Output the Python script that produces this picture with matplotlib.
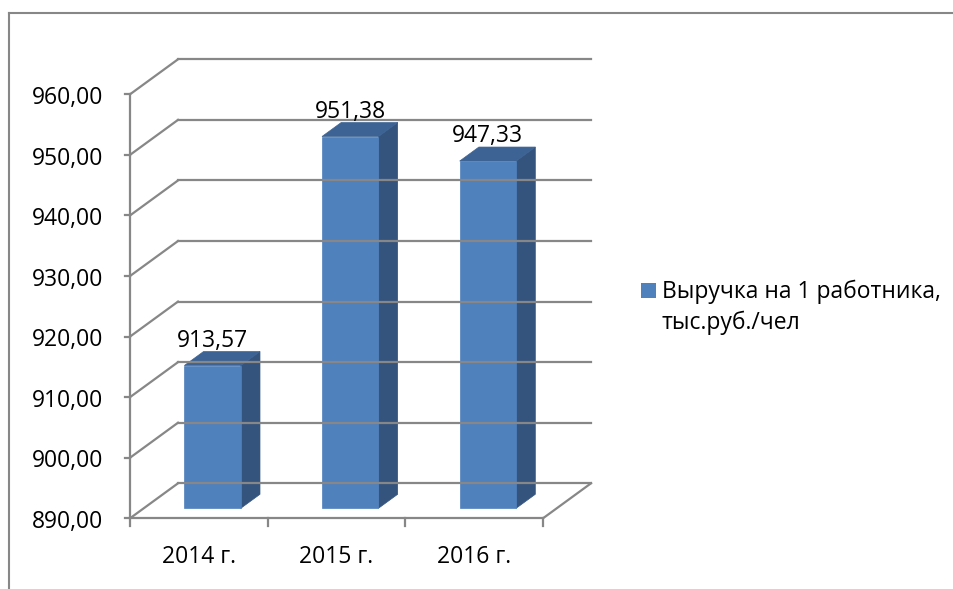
import matplotlib
matplotlib.use("Agg")
import matplotlib.pyplot as plt
from matplotlib.patches import Polygon
from matplotlib.lines import Line2D

# data
categories = ["2014 г.", "2015 г.", "2016 г."]
values = [913.57, 951.38, 947.33]
y_ticks = [890, 900, 910, 920, 930, 940, 950, 960]
legend_lines = ["Выручка на 1 работника,", "тыс.руб./чел"]

plt.rcParams["font.family"] = ["Open Sans", "DejaVu Sans"]
FS = 16.5
GRID = "#878787"
FRONT = "#4F81BD"
SIDE = "#34547E"
TOP = "#3C6394"

# pixel geometry of the reference (954x589)
W, H = 954, 589
X0, XPX = 130, (543 - 130) / 3      # front plane: x origin and px per category
Y0PX, YPX = 518.3, 60.57 / 10        # px of 890, px per value unit
VMIN = y_ticks[0]
DX = 48 / XPX                        # depth offset (category units)
DY = 35 / YPX                        # depth offset (value units)

fig = plt.figure(figsize=(W / 100, H / 100), dpi=100)
ax = fig.add_axes([0, 0, 1, 1])
ax.set_xlim(-X0 / XPX, (W - X0) / XPX)
ax.set_ylim(VMIN - (H - Y0PX) / YPX, VMIN + Y0PX / YPX)
ax.axis("off")


def proj(x, v, t):
    return (x + t * DX, v + t * DY)


n = len(categories)
lw = 1.6

# back wall gridlines + side wall diagonals
for v in y_ticks:
    ax.add_line(Line2D(*zip(proj(0, v, 1), proj(n, v, 1)), color=GRID, lw=lw))
    ax.add_line(Line2D(*zip(proj(0, v, 0), proj(0, v, 1)), color=GRID, lw=lw))
# floor right edge
ax.add_line(Line2D(*zip(proj(n, VMIN, 0), proj(n, VMIN, 1)), color=GRID, lw=lw))

# axes
ax.add_line(Line2D([0, 0], [VMIN, y_ticks[-1]], color=GRID, lw=lw))
ax.add_line(Line2D([0, n], [VMIN, VMIN], color=GRID, lw=lw))
for v in y_ticks:
    ax.add_line(Line2D([-5 / XPX, 0], [v, v], color=GRID, lw=lw))
    ax.text(-27 / XPX, v - 9.7 / YPX, f"{v:.2f}".replace(".", ","),
            ha="right", va="baseline", fontsize=FS)
for i in range(n + 1):
    ax.add_line(Line2D([i, i], [VMIN, VMIN - 8 / YPX], color=GRID, lw=lw))

# bars
t0, t1 = 0.286, 0.686
bw = 0.41
for i, (cat, val) in enumerate(zip(categories, values)):
    xl, xr = i + 0.5 - bw / 2, i + 0.5 + bw / 2
    front = [proj(xl, VMIN, t0), proj(xr, VMIN, t0), proj(xr, val, t0), proj(xl, val, t0)]
    side = [proj(xr, VMIN, t0), proj(xr, VMIN, t1), proj(xr, val, t1), proj(xr, val, t0)]
    top = [proj(xl, val, t0), proj(xr, val, t0), proj(xr, val, t1), proj(xl, val, t1)]
    ax.add_patch(Polygon(side, closed=True, fc=SIDE, ec=SIDE, lw=0.5))
    ax.add_patch(Polygon(top, closed=True, fc=TOP, ec=TOP, lw=0.5))
    ax.add_patch(Polygon(front, closed=True, fc=FRONT, ec=FRONT, lw=0.5))
    ly = proj(i + 0.5, val, t1)[1]
    ax.text(proj(i + 0.5, val, t0)[0], ly + 5 / YPX, f"{val:.2f}".replace(".", ","),
            ha="center", va="baseline", fontsize=FS)
    ax.text(i + 0.5, VMIN - 44.7 / YPX, cat, ha="center", va="baseline", fontsize=FS)

# legend
fig.patches.append(plt.Rectangle((641 / W, 1 - 298 / H), 15 / W, 15 / H,
                                 transform=fig.transFigure, fc=FRONT, ec="none"))
for k, line in enumerate(legend_lines):
    fig.text(662 / W, 1 - (298 + 31 * k) / H, line, ha="left", va="baseline",
             fontsize=FS)

# outer chart border
fig.add_artist(Line2D([9 / W, 9 / W], [0, 1 - 13 / H], transform=fig.transFigure,
                      color=GRID, lw=1.5))
fig.add_artist(Line2D([9 / W, 1], [1 - 13 / H, 1 - 13 / H], transform=fig.transFigure,
                      color=GRID, lw=1.5))

fig.savefig("out.png", dpi=100)
